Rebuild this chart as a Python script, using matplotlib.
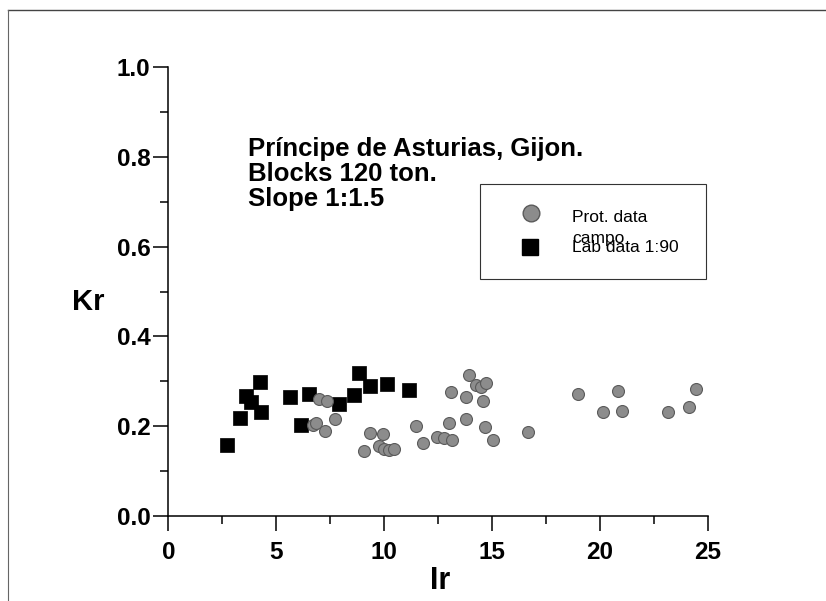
import matplotlib
matplotlib.use("Agg")
import matplotlib.pyplot as plt
from matplotlib.lines import Line2D
from matplotlib.patches import Rectangle
from matplotlib.ticker import MultipleLocator

plt.rcParams['font.family'] = ['Liberation Sans', 'DejaVu Sans']

# Prototype (field) data - grey circles
prot_ir = [6.70, 6.85, 6.98, 7.35, 7.24, 7.70, 9.05, 9.32, 9.94, 9.78, 10.01, 10.24, 10.47,
           11.49, 11.81, 12.46, 12.78, 13.15, 13.01, 13.80, 13.10, 13.80, 13.94, 14.26,
           14.49, 14.72, 14.58, 14.67, 15.04, 16.66, 18.97, 20.13, 20.82, 21.00, 23.13,
           24.14, 24.46]
prot_kr = [0.202, 0.207, 0.260, 0.256, 0.189, 0.216, 0.144, 0.186, 0.182, 0.156, 0.150, 0.147, 0.150,
           0.200, 0.162, 0.176, 0.173, 0.169, 0.207, 0.216, 0.276, 0.264, 0.313, 0.291,
           0.287, 0.296, 0.256, 0.198, 0.169, 0.187, 0.271, 0.231, 0.278, 0.233, 0.231,
           0.242, 0.282]

# Laboratory data 1:90 - black squares
lab_ir = [2.70, 3.31, 3.62, 3.85, 4.24, 4.31, 5.62, 6.16, 6.50, 7.90, 8.62, 8.82, 9.32, 10.12, 11.16]
lab_kr = [0.158, 0.218, 0.267, 0.254, 0.298, 0.232, 0.265, 0.202, 0.271, 0.250, 0.269, 0.319, 0.290, 0.295, 0.280]

title_lines = ["Príncipe de Asturias, Gijon.", "Blocks 120 ton.", "Slope 1:1.5"]

fig = plt.figure(figsize=(8.26, 6.01), dpi=100)
ax = fig.add_axes([0.2038, 0.1414, 0.6534, 0.747])

ax.scatter(prot_ir, prot_kr, s=8.6**2, marker='o', color='#8c8c8c',
           edgecolors='#5a5a5a', linewidths=0.8, zorder=3, clip_on=False)
ax.scatter(lab_ir, lab_kr, s=10.4**2, marker='s', color='black',
           edgecolors='black', linewidths=0.5, zorder=2, clip_on=False)

ax.set_xlim(0, 25)
ax.set_ylim(0, 1.0)
ax.xaxis.set_major_locator(MultipleLocator(5))
ax.xaxis.set_minor_locator(MultipleLocator(2.5))
ax.yaxis.set_major_locator(MultipleLocator(0.2))
ax.yaxis.set_minor_locator(MultipleLocator(0.1))
ax.yaxis.set_major_formatter(matplotlib.ticker.FormatStrFormatter('%.1f'))

for side in ['top', 'right']:
    ax.spines[side].set_visible(False)
for side in ['left', 'bottom']:
    ax.spines[side].set_linewidth(1.1)

ax.tick_params(which='major', direction='out', length=10.8, width=1.1)
ax.tick_params(which='minor', direction='out', length=5.8, width=1.1)
ax.tick_params(axis='y', which='major', pad=2)
ax.tick_params(axis='x', which='major', pad=7)
for lab in ax.get_xticklabels() + ax.get_yticklabels():
    lab.set_fontsize(17.5)
    lab.set_fontweight('bold')

ax.set_xlabel("Ir", fontsize=22, fontweight='bold')
ax.set_ylabel("Kr", fontsize=21, fontweight='bold', rotation=0)
ax.xaxis.set_label_coords(0.503, -0.112)
ax.yaxis.set_label_coords(-0.149, 0.445)

ax.text(0.148, 0.845, "\n".join(title_lines), transform=ax.transAxes,
        fontsize=18.5, fontweight='bold', va='top', ha='left', linespacing=1.07)

# hand-made legend box (entries overlap as in the original)
ax.add_patch(Rectangle((0.578, 0.528), 0.418, 0.211, transform=ax.transAxes,
                       fill=False, edgecolor='#333333', linewidth=0.8, clip_on=False))
ax.plot([0.672], [0.675], marker='o', markersize=12, color='#8c8c8c',
        markeredgecolor='#5a5a5a', transform=ax.transAxes, clip_on=False)
ax.plot([0.670], [0.599], marker='s', markersize=12, color='black',
        transform=ax.transAxes, clip_on=False)
ax.text(0.748, 0.664, "Prot. data", transform=ax.transAxes, fontsize=12.5, va='center')
ax.text(0.748, 0.619, "campo", transform=ax.transAxes, fontsize=12.5, va='center')
ax.text(0.748, 0.597, "Lab data 1:90", transform=ax.transAxes, fontsize=12.5, va='center')

# frame lines of the scanned page
fig.add_artist(Line2D([0.0097, 1.0], [0.9834, 0.9834], transform=fig.transFigure,
                      color='#444444', linewidth=1.0))
fig.add_artist(Line2D([0.0097, 0.0097], [0.0, 0.9834], transform=fig.transFigure,
                      color='#666666', linewidth=0.8))

fig.savefig("out.png", dpi=100)
